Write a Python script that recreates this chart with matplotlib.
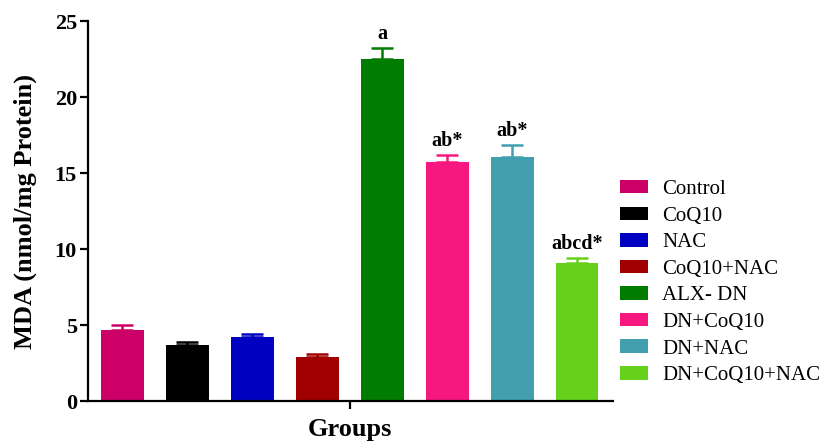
import numpy as np
from matplotlib import pyplot as plt
from matplotlib.patches import Patch

groups = ["Control", "CoQ10", "NAC", "CoQ10+NAC", "ALX- DN",
          "DN+CoQ10", "DN+NAC", "DN+CoQ10+NAC"]
mda_mean = [4.67, 3.66, 4.19, 2.87, 22.52, 15.70, 16.07, 9.06]
mda_err = [0.33, 0.24, 0.24, 0.22, 0.68, 0.48, 0.75, 0.37]
sig_labels = ["", "", "", "", "a", "ab*", "ab*", "abcd*"]
colors = ["#CC0066", "#000000", "#0000C0", "#A00000", "#007D00",
          "#F7187F", "#42A0AE", "#66D11A"]

plt.rcParams["font.family"] = ["Liberation Serif", "DejaVu Serif"]

fig = plt.figure(figsize=(8.25, 4.44), dpi=100)
ax = fig.add_axes([0.1067, 0.0968, 0.636, 0.8559])

x = np.arange(len(groups))
bars = ax.bar(x, mda_mean, width=0.66, color=colors, edgecolor="none")
for i in range(len(groups)):
    ax.errorbar(x[i], mda_mean[i], yerr=[[0], [mda_err[i]]], fmt="none",
                ecolor=colors[i], elinewidth=1.8, capsize=8, capthick=1.8)
    if sig_labels[i]:
        ax.annotate(sig_labels[i], (x[i], mda_mean[i] + mda_err[i]),
                    xytext=(0, 3), textcoords="offset points",
                    ha="center", va="bottom", fontsize=14.5,
                    fontweight="bold")

ax.set_xlim(-0.53, 7.55)
ax.set_ylim(0, 25)
ax.set_yticks([0, 5, 10, 15, 20, 25])
ax.set_xticks([3.5])
ax.set_xticklabels([""])
ax.spines["top"].set_visible(False)
ax.spines["right"].set_visible(False)
ax.spines["left"].set_linewidth(1.6)
ax.spines["bottom"].set_linewidth(1.6)
ax.tick_params(axis="both", width=1.6, length=6, direction="out", pad=2)
for lbl in ax.get_yticklabels():
    lbl.set_fontweight("bold")
    lbl.set_fontsize(16)

ax.set_ylabel("MDA (nmol/mg Protein)", fontsize=19, fontweight="bold")
ax.yaxis.set_label_coords(-0.097, 0.5)
ax.set_xlabel("Groups", fontsize=19, fontweight="bold")
ax.xaxis.set_label_coords(0.5, -0.045)

handles = [Patch(facecolor=c, edgecolor="none") for c in colors]
fig.legend(handles, groups, loc="upper left", bbox_to_anchor=(0.729, 0.637),
           frameon=False, fontsize=15, handlelength=1.35, handleheight=0.62,
           labelspacing=0.36, handletextpad=0.67)

plt.savefig("out.png", dpi=100)
plt.close()
